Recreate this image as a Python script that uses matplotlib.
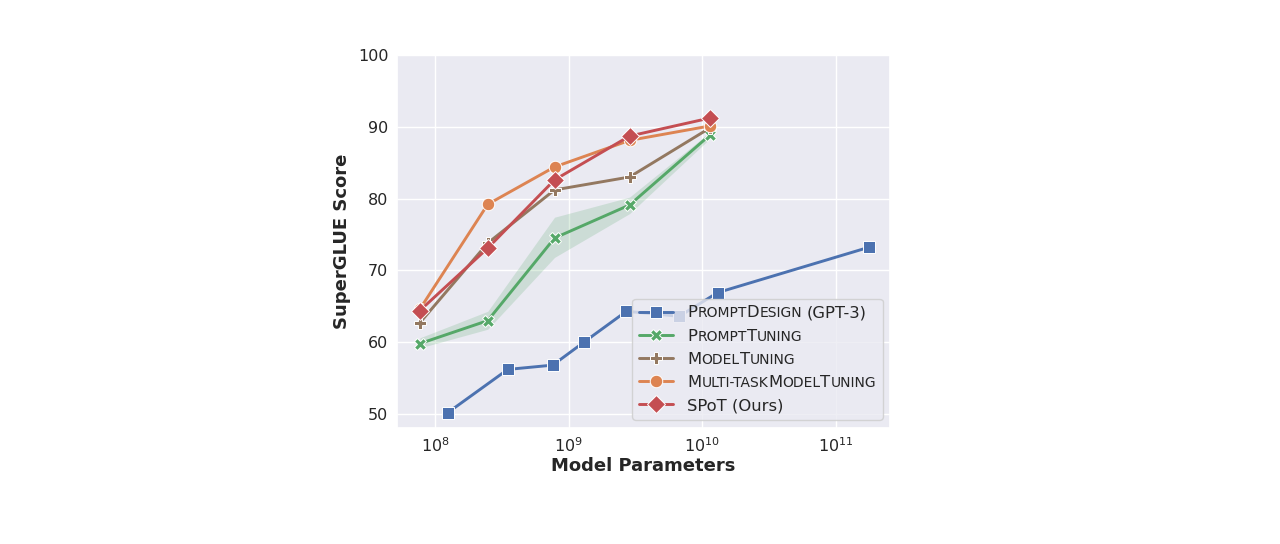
import matplotlib
matplotlib.use("Agg")
import matplotlib.pyplot as plt
import seaborn as sns
from matplotlib.offsetbox import HPacker, TextArea, DrawingArea
from matplotlib.ticker import FixedLocator, NullLocator

# ---------------- data ----------------
gpt3_params = [1.25e8, 3.5e8, 7.6e8, 1.3e9, 2.7e9, 6.7e9, 1.3e10, 1.75e11]
gpt3_scores = [50.2, 56.2, 56.8, 60.0, 64.3, 63.6, 66.9, 73.2]

t5_params = [7.7e7, 2.48e8, 7.83e8, 2.85e9, 1.13e10]
prompt_tuning = [59.8, 63.0, 74.5, 79.1, 88.8]
prompt_tuning_lo = [59.2, 61.8, 71.8, 77.9, 88.3]
prompt_tuning_hi = [60.6, 64.3, 77.4, 80.2, 89.2]
model_tuning = [62.7, 73.8, 81.2, 83.0, 89.8]
multitask_tuning = [64.6, 79.2, 84.4, 88.1, 90.1]
spot = [64.4, 73.1, 82.6, 88.7, 91.2]

series_labels = ["PromptDesign (GPT-3)", "PromptTuning", "ModelTuning",
                 "Multi-taskModelTuning", "SPoT (Ours)"]
x_ticks = [1e8, 1e9, 1e10, 1e11]
x_tick_labels = [r"$10^{8}$", r"$10^{9}$", r"$10^{10}$", r"$10^{11}$"]
y_ticks = [50, 60, 70, 80, 90, 100]
xlabel = "Model Parameters"
ylabel = "SuperGLUE Score"

# ---------------- style ----------------
sns.set_theme(style="darkgrid")
plt.rcParams["font.family"] = ["DejaVu Sans"]
pal = sns.color_palette("deep")
c_blue, c_orange, c_green, c_red, c_brown = pal[0], pal[1], pal[2], pal[3], pal[5]

fig = plt.figure(figsize=(12.8, 5.44), dpi=100)
ax = fig.add_axes([0.310, 0.214, 0.385, 0.685])

lw = 2.1
common = dict(linewidth=lw, markeredgecolor="white", markeredgewidth=0.7)

h1, = ax.plot(gpt3_params, gpt3_scores, color=c_blue, marker="s", markersize=9, **common)
ax.fill_between(t5_params, prompt_tuning_lo, prompt_tuning_hi, color=c_green,
                alpha=0.2, linewidth=0)
h2, = ax.plot(t5_params, prompt_tuning, color=c_green, marker="X", markersize=9, **common)
h3, = ax.plot(t5_params, model_tuning, color=c_brown, marker="P", markersize=9, **common)
h4, = ax.plot(t5_params, multitask_tuning, color=c_orange, marker="o", markersize=9, **common)
h5, = ax.plot(t5_params, spot, color=c_red, marker="D", markersize=9.5, **common)

ax.set_xscale("log")
ax.set_xlim(10 ** 7.714, 10 ** 11.40)
ax.set_ylim(48.1, 100)
ax.xaxis.set_major_locator(FixedLocator(x_ticks))
ax.set_xticklabels(x_tick_labels)
ax.xaxis.set_minor_locator(NullLocator())
ax.set_yticks(y_ticks)
ax.tick_params(labelsize=11.5, colors=".15", length=0, pad=6)
ax.set_xlabel(xlabel, fontsize=13, fontweight="bold", color=".15", labelpad=2)
ax.set_ylabel(ylabel, fontsize=13, fontweight="bold", color=".15", labelpad=5)

# ---------------- legend with small caps ----------------
big = 11.8
small = big * 0.85


def smallcaps_segments(label):
    if label.startswith("SPoT"):
        return [(label, True)]
    if " (" in label:
        head, tail = label.split(" (", 1)
        tail = " (" + tail
    else:
        head, tail = label, ""
    segs = []
    for ch in head:
        is_big = not ch.islower()
        if ch == "-":
            is_big = False
        if segs and segs[-1][1] == is_big:
            segs[-1] = (segs[-1][0] + ch.upper(), is_big)
        else:
            segs.append((ch.upper(), is_big))
    if tail:
        segs.append((tail, True))
    return segs


leg = ax.legend([h1, h2, h3, h4, h5], series_labels, loc="lower right",
                bbox_to_anchor=(0.986, 0.021), borderaxespad=0, fontsize=big,
                labelspacing=0.5, handlelength=2.1, handletextpad=0.85,
                framealpha=0.8, borderpad=0.4)
rows = [item for col in leg._legend_handle_box.get_children() for item in col.get_children()]
for row, label in zip(rows, series_labels):
    parts = []
    for text, is_big in smallcaps_segments(label):
        if text.startswith(" "):
            parts.append(DrawingArea(0.318 * big, 0))
            text = text.lstrip(" ")
        parts.append(TextArea(text, textprops=dict(fontsize=big if is_big else small,
                                                   color=".15", family="DejaVu Sans")))
    hp = HPacker(children=parts, align="baseline", pad=0, sep=0)
    hp.set_figure(fig)
    for p in parts:
        p.set_figure(fig)
    row._children[1] = hp

fig.savefig("out.png", dpi=100)
